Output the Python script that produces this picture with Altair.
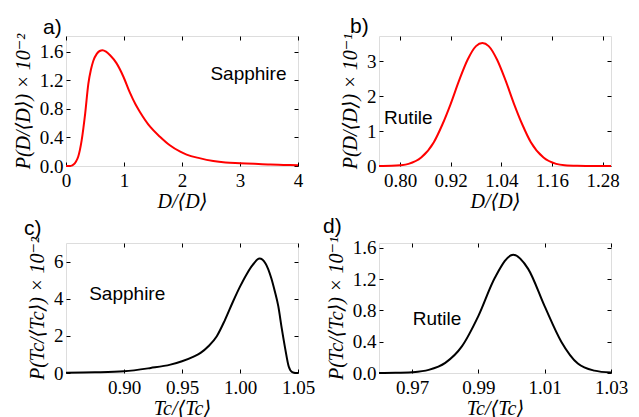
import altair as alt
import pandas as pd

# ---- data ----
a_x = [0.00, 0.06, 0.10, 0.13, 0.17, 0.21, 0.27, 0.33, 0.385, 0.43, 0.47, 0.53, 0.58, 0.63, 0.69, 0.76,
       0.87, 0.99, 1.10, 1.20, 1.28, 1.45, 1.62, 1.79, 1.97, 2.08, 2.30, 2.54, 2.75, 3.00, 3.25, 3.52, 3.75, 4.00]
a_y = [0.00, 0.00, 0.005, 0.02, 0.06, 0.13, 0.36, 0.73, 1.15, 1.35, 1.47, 1.57, 1.61, 1.62, 1.60, 1.55,
       1.44, 1.25, 1.03, 0.86, 0.75, 0.55, 0.41, 0.29, 0.20, 0.16, 0.11, 0.07, 0.05, 0.04, 0.03, 0.02, 0.015, 0.01]

b_x = [0.75, 0.78, 0.80, 0.82, 0.85, 0.88, 0.90, 0.92, 0.94, 0.96, 0.98, 0.995, 1.01, 1.03, 1.05, 1.07,
       1.09, 1.11, 1.14, 1.17, 1.19, 1.22, 1.26, 1.30]
b_y = [0.0, 0.005, 0.02, 0.06, 0.24, 0.68, 1.18, 1.78, 2.45, 3.04, 3.43, 3.52, 3.43, 3.04, 2.45, 1.78,
       1.18, 0.68, 0.24, 0.06, 0.02, 0.005, 0.0, 0.0]

c_x = [0.85, 0.875, 0.90, 0.923, 0.94, 0.95, 0.96, 0.966, 0.973, 0.980, 0.987, 0.994, 1.000, 1.006,
       1.011, 1.0168, 1.022, 1.027, 1.030, 1.033, 1.036, 1.039, 1.042, 1.045, 1.048, 1.05]
c_y = [0.02, 0.04, 0.09, 0.27, 0.45, 0.63, 0.88, 1.08, 1.45, 1.98, 2.85, 3.85, 4.65, 5.35,
       5.82, 6.16, 5.9, 5.1, 4.4, 3.6, 2.4, 1.3, 0.35, 0.05, 0.0, 0.0]

d_x = [0.96, 0.965, 0.970, 0.975, 0.980, 0.985, 0.990, 0.995, 1.0005, 1.005, 1.010, 1.015, 1.020, 1.025, 1.030]
d_y = [0.0, 0.002, 0.01, 0.04, 0.13, 0.34, 0.73, 1.22, 1.51, 1.33, 0.85, 0.40, 0.12, 0.03, 0.005]

SERIF = "Liberation Serif, DejaVu Serif, serif"
SANS = "Liberation Sans, Arial, sans-serif"
W, H = 232, 130


def panel(xs, ys, color, xdom, ydom, xticks, yticks, xfmt, yfmt, xtitle, ytitle,
          name, nx, ny, letter, ldx, ldy):
    df = pd.DataFrame({"x": xs, "y": ys})
    xscale = alt.Scale(domain=xdom, nice=False, zero=False)
    yscale = alt.Scale(domain=ydom, nice=False, zero=False)
    common = dict(domain=False, grid=False, tickSize=4, tickColor="black", tickWidth=1, offset=-4)
    lab = dict(labelFont=SERIF, labelFontSize=19, labelColor="black", labelFlush=False,
               labelOverlap=False, titleFont=SERIF, titleFontSize=20, titleFontWeight="normal",
               titleFontStyle="italic", titleColor="black")
    line = alt.Chart(df).mark_line(color=color, strokeWidth=2, interpolate="monotone").encode(
        x=alt.X("x:Q", scale=xscale,
                axis=alt.Axis(values=xticks, format=xfmt, title=xtitle, labelPadding=5,
                              titlePadding=1, **common, **lab)),
        y=alt.Y("y:Q", scale=yscale,
                axis=alt.Axis(values=yticks, format=yfmt, title=ytitle, labelPadding=3,
                              titlePadding=6, **common, **lab)),
    )
    mirror = alt.Chart(df).mark_line(strokeOpacity=0).encode(
        x=alt.X("x:Q", scale=xscale,
                axis=alt.Axis(orient="top", values=xticks, labels=False, title=None, **common)),
        y=alt.Y("y:Q", scale=yscale,
                axis=alt.Axis(orient="right", values=yticks, labels=False, title=None, **common)),
    )
    ann = alt.Chart(pd.DataFrame({"x": [nx], "y": [ny], "t": [name]})).mark_text(
        font=SANS, fontSize=19, align="left", baseline="alphabetic", color="black"
    ).encode(
        x=alt.X("x:Q", scale=xscale, axis=None),
        y=alt.Y("y:Q", scale=yscale, axis=None),
        text="t:N",
    )
    let = alt.Chart(pd.DataFrame({"t": [letter]})).mark_text(
        font=SANS, fontSize=21, align="left", baseline="alphabetic", color="black"
    ).encode(x=alt.value(ldx), y=alt.value(ldy), text="t:N")
    return alt.layer(line, mirror, ann, let).resolve_axis(x="independent", y="independent").properties(
        width=W, height=H)


pa = panel(a_x, a_y, "#ff0000", [0, 4], [0, 1.82], [0, 1, 2, 3, 4], [0, 0.4, 0.8, 1.2, 1.6],
           "d", ".1f", "D/⟨D⟩", "P(D/⟨D⟩) × 10⁻²", "Sapphire", 2.49, 1.21, "a)", -23, -2.5)
pb = panel(b_x, b_y, "#ff0000", [0.75, 1.30], [0, 3.72], [0.80, 0.92, 1.04, 1.16, 1.28], [0, 1, 2, 3],
           ".2f", "d", "D/⟨D⟩", "P(D/⟨D⟩) × 10⁻¹", "Rutile", 0.762, 1.19, "b)", -29, -3)
pc = panel(c_x, c_y, "#000000", [0.85, 1.05], [0, 7], [0.90, 0.95, 1.00, 1.05], [0, 2, 4, 6],
           ".2f", "d", "Tc/⟨Tc⟩", "P(Tc/⟨Tc⟩) × 10⁻²", "Sapphire", 0.870, 3.91, "c)", -42, -8)
pd_ = panel(d_x, d_y, "#000000", [0.96, 1.03], [0, 1.66], [0.97, 0.99, 1.01, 1.03], [0, 0.4, 0.8, 1.2, 1.6],
            ".2f", ".1f", "Tc/⟨Tc⟩", "P(Tc/⟨Tc⟩) × 10⁻¹", "Rutile", 0.9702, 0.61, "d)", -56, -9.6)

chart = alt.concat(pa, pb, pc, pd_, columns=2, spacing={"row": 77, "column": 81}, bounds="flush").properties(
    padding={"left": 4, "top": 7, "right": 0, "bottom": 0}
).configure_view(stroke="black", strokeWidth=1).configure_axis(
    labelFont=SERIF, titleFont=SERIF
).configure(background="white")

chart.save("out.html", embed_options={"renderer": "svg", "actions": False})
